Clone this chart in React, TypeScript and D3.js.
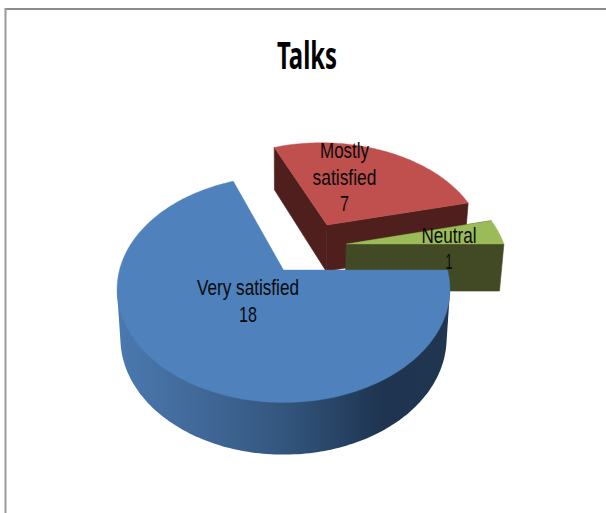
import React from "react";
import * as d3 from "d3";

const categories = ["Very satisfied", "Mostly satisfied", "Neutral"];
const values = [18, 7, 1];
const titleText = "Talks";

// Styling and layout, kept apart from the data
const topColors = ["#4f81bd", "#c0504d", "#9bbb59"];
const wallColors = ["url(#blueWall)", "#4f1f1d", "#414a24"];
const explode = [[0, 0], [0.285, -0.44], [0.4, -0.246]];
const labelLines = [["Very satisfied"], ["Mostly", "satisfied"], ["Neutral"]];
const labelBoxes = [
  { cx: 248, y0: 295, widths: [102, 18], step: 26.5 },
  { cx: 344.5, y0: 158, widths: [49, 64, 9], step: 26.5 },
  { cx: 449, y0: 243, widths: [55, 7], step: 26 },
];

const W = 606, H = 513;
const cx = 283.5, cy = 270, f = 164, g = 110, k = 0.17, s = 0.98;

function proj(X: number, Y: number, lower: boolean): [number, number] {
  const w = 1 - k * Y;
  const x = cx + (f * X / w) * (lower ? s : 1);
  const y = cy + (g * Y) / w + (lower ? 72 - 24 * w : 0);
  return [x, y];
}

const line = d3.line<[number, number]>().x(d => d[0]).y(d => d[1]);

export default function App() {
  const arcs = d3.pie<number>().sort(null)
    .startAngle(Math.PI / 2).endAngle(Math.PI / 2 + 2 * Math.PI)(values);

  const slices = arcs.map((a, i) => {
    const [ox, oy] = explode[i];
    const n = Math.max(8, Math.ceil((a.endAngle - a.startAngle) * 50));
    const angles = d3.range(n + 1).map(t => a.startAngle + (t / n) * (a.endAngle - a.startAngle));
    const rim = (lower: boolean, as: number[]) =>
      as.map(t => proj(ox + Math.sin(t), oy - Math.cos(t), lower));
    const apexTop = proj(ox, oy, false);
    const apexLow = proj(ox, oy, true);
    const topRim = rim(false, angles);
    const lowRim = rim(true, angles);
    const top = line([apexTop, ...topRim])! + "Z";
    // outer wall: hull of the viewer-facing part of both rims
    const front = angles.filter(t => {
      const Y = -Math.cos(t);
      return Math.sin(t) > 0 ? Y >= -0.001 : Y >= k;
    });
    const hull = front.length > 2
      ? d3.polygonHull([...rim(false, front), ...rim(true, front)])
      : null;
    const outer = hull ? line(hull as [number, number][])! + "Z" : null;
    const wallA = line([apexTop, topRim[0], lowRim[0], apexLow])! + "Z";
    const wallB = line([apexTop, topRim[n], lowRim[n], apexLow])! + "Z";
    return { i, top, outer, wallA, wallB };
  });

  return (
    <svg width={W} height={H} viewBox={`0 0 ${W} ${H}`}
      style={{ position: "absolute", left: 0, top: 0, background: "#fff" }}>
      <defs>
        <linearGradient id="blueWall" gradientUnits="userSpaceOnUse" x1={117} x2={449} y1={0} y2={0}>
          <stop offset="0" stopColor="#4a79b0" />
          <stop offset="0.2" stopColor="#436c9d" />
          <stop offset="0.5" stopColor="#33567e" />
          <stop offset="0.8" stopColor="#1e3450" />
          <stop offset="1" stopColor="#1f3550" />
        </linearGradient>
      </defs>
      <line x1={5} x2={606} y1={9} y2={9} stroke="#8c8c8c" strokeWidth={2} />
      <line x1={5.5} x2={5.5} y1={8} y2={513} stroke="#9a9a9a" strokeWidth={2} />
      <text x={307} y={69} textAnchor="middle" fontFamily="'Noto Sans', sans-serif"
        fontWeight={700} fontSize={38} textLength={60} lengthAdjust="spacingAndGlyphs" fill="#000">
        {titleText}
      </text>
      {[1, 2, 0].map(i => {
        const sl = slices[i];
        return (
          <g key={categories[i]}>
            {sl.outer && <path d={sl.outer} fill={wallColors[i]} />}
            {i !== 0 && <path d={sl.wallA} fill={wallColors[i]} stroke={wallColors[i]} strokeWidth={0.6} />}
            {i !== 0 && <path d={sl.wallB} fill={wallColors[i]} stroke={wallColors[i]} strokeWidth={0.6} />}
            <path d={sl.top} fill={topColors[i]} stroke={topColors[i]} strokeWidth={0.4} />
          </g>
        );
      })}
      {categories.map((c, i) => {
        const b = labelBoxes[i];
        const lines = [...labelLines[i], String(values[i])];
        return (
          <g key={c + "-label"}>
            {lines.map((t, j) => (
              <text key={j} x={b.cx} y={b.y0 + j * b.step} textAnchor="middle"
                fontFamily="'Liberation Sans', Arial, sans-serif" fontSize={22}
                textLength={b.widths[j]} lengthAdjust="spacingAndGlyphs" fill="#0a0a0a">
                {t}
              </text>
            ))}
          </g>
        );
      })}
    </svg>
  );
}
